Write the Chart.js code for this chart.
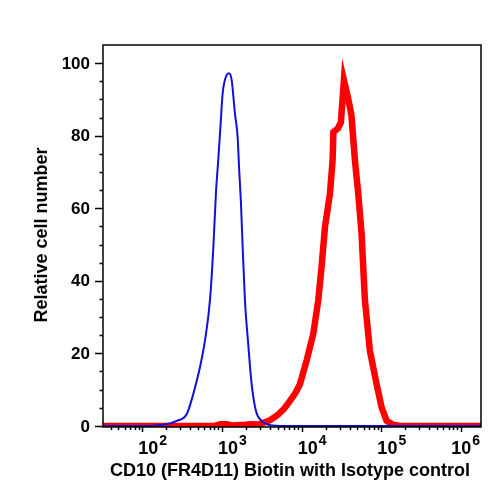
<!DOCTYPE html>
<html>
<head>
<meta charset="utf-8">
<script src="https://cdn.jsdelivr.net/npm/chart.js"></script>
<style>
  html, body { margin: 0; padding: 0; background: #fff; }
  canvas { display: block; }
</style>
</head>
<body>
<canvas id="histo" width="501" height="497"></canvas>
<script>

// isotype control (blue) - fluorescence intensity vs relative cell number
var isoX = [20, 125, 183, 270, 360, 436, 528, 611, 706, 776, 839, 897, 962, 1019, 1089, 1222, 1321, 1452, 1570, 1644, 1730, 1816, 1941, 2133, 2355, 2667, 3141, 3802, 5333, 2000000];
var isoY = [0, 0, 0.3, 1.4, 3.2, 8.8, 16.1, 23.5, 34.6, 48.6, 64.1, 73.3, 83.4, 91.7, 95.4, 97.2, 95.4, 86.2, 79.7, 70.5, 61.3, 49.3, 34.6, 22.6, 11.5, 4.1, 1.4, 0.3, 0, 0];

// CD10 (FR4D11) Biotin (red)
var cd10X = [20, 817, 950, 1150, 1350, 1941, 2300, 2900, 3296, 4000, 4853, 6000, 7129, 8300, 9510, 11530, 13960, 16140, 17790, 19590, 22630, 24450, 25000, 28500, 31070, 33880, 38020, 42070, 46560, 51290, 56490, 59160, 62190, 71820, 87100, 100700, 116400, 140900, 170900, 2000000];
var cd10Y = [0, 0, 0.45, 0.45, 0.1, 0.3, 0.45, 0.4, 0.8, 1.6, 2.8, 4.7, 6.9, 9, 11.5, 18, 25.3, 34.6, 44, 54.8, 64, 73.3, 81, 82, 83.7, 95.3, 90.6, 85.7, 73.3, 64, 53, 44, 34.6, 20.7, 11.5, 5.1, 1.4, 0.3, 0, 0];

var yTicks = [0, 20, 40, 60, 80, 100];
var xTickExps = [2, 3, 4, 5, 6];
var xTitle = "CD10 (FR4D11) Biotin with Isotype control";
var yTitle = "Relative cell number";

function toPoints(xs, ys) {
  return xs.map(function (x, i) { return { x: x, y: ys[i] }; });
}

var FONT = '"Liberation Sans", Arial, Helvetica, sans-serif';

// axes are drawn by hand so the minor ticks and 10^n labels look like the FlowJo plot
var facsAxes = {
  id: 'facsAxes',
  afterDatasetsDraw: function (chart) {
    var ctx = chart.ctx, a = chart.chartArea;
    var xs = chart.scales.x, ys = chart.scales.y;
    ctx.save();
    ctx.strokeStyle = '#000';
    ctx.fillStyle = '#000';
    ctx.lineWidth = 1.5;
    ctx.strokeRect(a.left, a.top, a.right - a.left, a.bottom - a.top);

    // y ticks, minor every 5
    ctx.beginPath();
    for (var v = yTicks[0]; v <= yTicks[yTicks.length - 1]; v += 5) {
      var py = Math.round(ys.getPixelForValue(v)) + 0.5;
      var len = (v % 20 === 0) ? 8 : 3.5;
      ctx.moveTo(a.left - len, py);
      ctx.lineTo(a.left, py);
    }
    ctx.stroke();

    ctx.font = 'bold 17px ' + FONT;
    ctx.textAlign = 'right';
    ctx.textBaseline = 'middle';
    yTicks.forEach(function (t) {
      ctx.fillText(String(t), a.left - 13, ys.getPixelForValue(t) + 1);
    });

    // x ticks: decades long, 2..9 short
    ctx.beginPath();
    for (var d = 1; d <= 6; d++) {
      for (var m = 1; m <= 9; m++) {
        var val = m * Math.pow(10, d);
        if (val < xs.min || val > xs.max) continue;
        var px = Math.round(xs.getPixelForValue(val)) + 0.5;
        ctx.moveTo(px, a.bottom);
        ctx.lineTo(px, a.bottom + (m === 1 ? 5 : 3));
      }
    }
    ctx.stroke();

    ctx.textAlign = 'left';
    ctx.textBaseline = 'alphabetic';
    xTickExps.forEach(function (e) {
      var px = xs.getPixelForValue(Math.pow(10, e));
      ctx.font = 'bold 18px ' + FONT;
      var w1 = ctx.measureText('10').width;
      ctx.font = 'bold 14px ' + FONT;
      var w2 = ctx.measureText(String(e)).width;
      var left = px - 4;
      if (left + w1 + w2 + 1 > chart.width - 21) left = chart.width - 21 - w1 - w2 - 1;
      ctx.font = 'bold 18px ' + FONT;
      ctx.fillText('10', left, 454);
      ctx.font = 'bold 14px ' + FONT;
      ctx.fillText(String(e), left + w1 + 1, 444.5);
    });

    // axis titles
    ctx.font = 'bold 18px ' + FONT;
    ctx.textAlign = 'center';
    ctx.fillText(xTitle, (a.left + a.right) / 2 - 2, 476);
    ctx.translate(47, 235);
    ctx.rotate(-Math.PI / 2);
    ctx.fillText(yTitle, 0, 0);
    ctx.restore();
  }
};

new Chart(document.getElementById("histo"), {
  type: 'line',
  data: {
    datasets: [{
      label: "CD10 (FR4D11) Biotin",
      data: toPoints(cd10X, cd10Y),
      borderColor: "#ff0000",
      borderWidth: 6.5,
      tension: 0,
      pointRadius: 0,
      fill: false,
      clip: 0,
      order: 2
    }, {
      label: "Isotype control",
      data: toPoints(isoX, isoY),
      borderColor: "#1010d8",
      borderWidth: 2,
      cubicInterpolationMode: 'monotone',
      pointRadius: 0,
      fill: false,
      clip: 0,
      order: 1
    }]
  },
  options: {
    responsive: false,
    animation: false,
    layout: { padding: { left: 103, right: 20, top: 45, bottom: 70 } },
    scales: {
      x: { type: 'logarithmic', min: 32.1, max: 1780000, display: false },
      y: { type: 'linear', min: -0.3, max: 105, display: false }
    },
    plugins: {
      legend: { display: false },
      tooltip: { enabled: false }
    }
  },
  plugins: [facsAxes]
});
</script>
</body>
</html>
